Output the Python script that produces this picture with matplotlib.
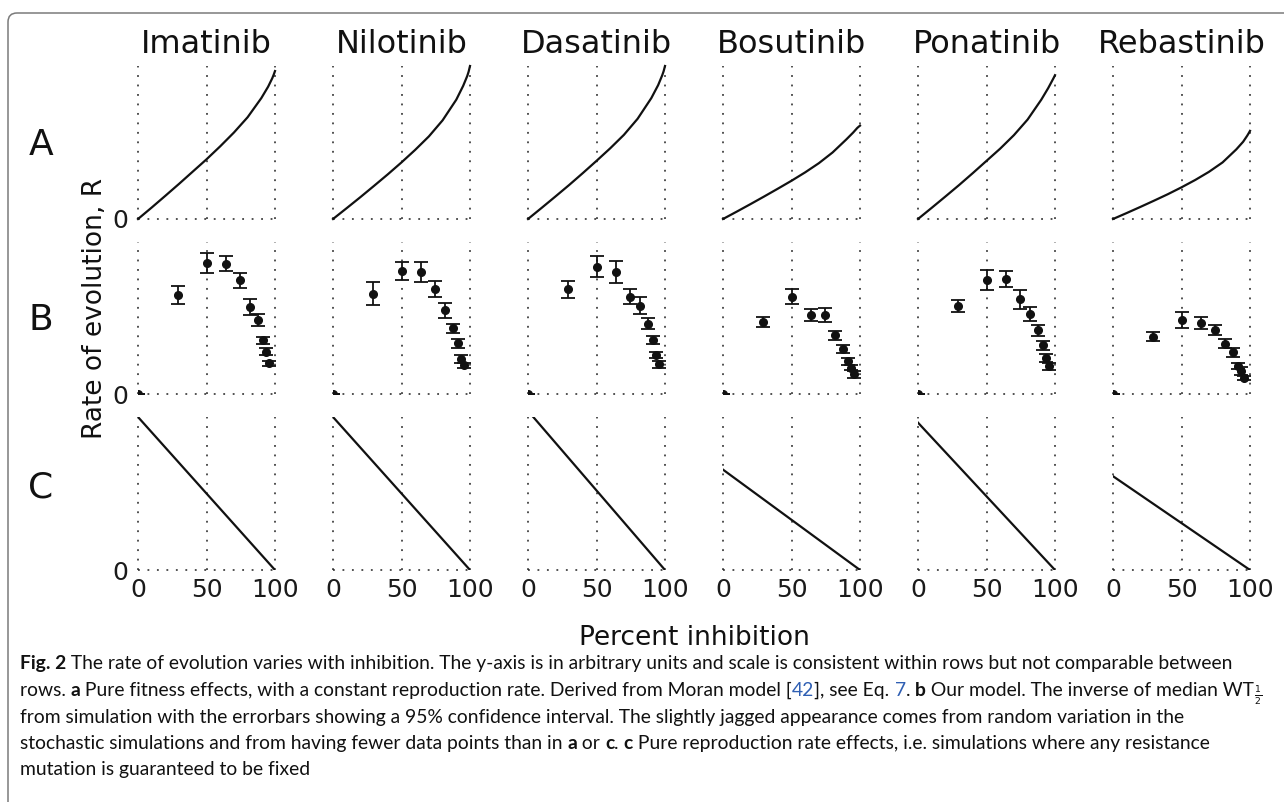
import numpy as np
import matplotlib.pyplot as plt
from matplotlib.patches import FancyBboxPatch
from matplotlib.transforms import IdentityTransform

W, H = 1284, 802

drugs = ['Imatinib', 'Nilotinib', 'Dasatinib', 'Bosutinib', 'Ponatinib', 'Rebastinib']
row_names = ['A', 'B', 'C']
x_ticks = [0, 50, 100]

# row A: pure fitness effects
inhib_a = [0, 10, 20, 30, 40, 50, 60, 70, 80, 90, 95, 98, 99, 100]
rate_a = [
    [0, 0.075, 0.152, 0.230, 0.310, 0.390, 0.475, 0.565, 0.665, 0.790, 0.865, 0.920, 0.942, 0.967],
    [0, 0.071, 0.143, 0.217, 0.292, 0.370, 0.452, 0.540, 0.645, 0.780, 0.870, 0.935, 0.963, 1.000],
    [0, 0.073, 0.147, 0.222, 0.300, 0.380, 0.462, 0.550, 0.655, 0.790, 0.875, 0.940, 0.966, 1.000],
    [0, 0.048, 0.097, 0.147, 0.198, 0.250, 0.305, 0.365, 0.435, 0.520, 0.565, 0.595, 0.603, 0.610],
    [0, 0.073, 0.147, 0.222, 0.300, 0.380, 0.460, 0.548, 0.650, 0.780, 0.855, 0.905, 0.922, 0.940],
    [0, 0.039, 0.079, 0.120, 0.162, 0.207, 0.255, 0.308, 0.370, 0.455, 0.505, 0.545, 0.560, 0.576],
]

# row B: our model, inverse median WT1/2 with 95% CI
inhib_b = [0, 29.5, 50, 64.5, 74.5, 82, 87.5, 91, 93.5, 95.5]
rate_b = [
    [0, 0.651, 0.862, 0.856, 0.747, 0.572, 0.487, 0.354, 0.279, 0.203],
    [0, 0.659, 0.808, 0.801, 0.688, 0.550, 0.432, 0.334, 0.234, 0.192],
    [0, 0.688, 0.834, 0.801, 0.638, 0.579, 0.463, 0.356, 0.258, 0.197],
    [0, 0.474, 0.640, 0.520, 0.520, 0.386, 0.299, 0.218, 0.175, 0.131],
    [0, 0.579, 0.747, 0.753, 0.622, 0.528, 0.419, 0.321, 0.240, 0.186],
    [0, 0.378, 0.485, 0.465, 0.421, 0.332, 0.277, 0.186, 0.153, 0.109],
]
err_b = [
    [0, 0.060, 0.066, 0.051, 0.049, 0.050, 0.038, 0.025, 0.024, 0.016],
    [0, 0.074, 0.057, 0.065, 0.052, 0.047, 0.030, 0.029, 0.027, 0.017],
    [0, 0.057, 0.068, 0.074, 0.049, 0.055, 0.038, 0.028, 0.021, 0.022],
    [0, 0.035, 0.051, 0.039, 0.043, 0.030, 0.027, 0.022, 0.018, 0.020],
    [0, 0.038, 0.066, 0.051, 0.064, 0.046, 0.036, 0.029, 0.026, 0.023],
    [0, 0.031, 0.051, 0.040, 0.034, 0.029, 0.029, 0.022, 0.024, 0.013],
]

# row C: pure reproduction rate effects, straight lines down to 0 at 100 %
inhib_c = [0, 100]
start_c = [1.0, 1.0, 1.04, 0.656, 0.963, 0.613]

fig = plt.figure(figsize=(W / 100, H / 100), dpi=100)

# rounded frame around the figure (only top / left visible)
frame = FancyBboxPatch((8, -60), 1400, H - 13 + 60,
                       boxstyle='round,pad=0,rounding_size=9',
                       transform=IdentityTransform(), fill=False,
                       edgecolor='#7a7a7a', linewidth=1.1)
fig.add_artist(frame)

ink = '#111111'
dot = dict(color='#222222', linewidth=1.1, linestyle=(0, (1.2, 5)), clip_on=False, zorder=1)
col_x0, col_step, ax_w, ax_h = 138, 195, 137, 153
row_bottom = [219, 394.5, 570]

for r in range(3):
    for c in range(6):
        left = (col_x0 + c * col_step) / W
        bottom = 1 - row_bottom[r] / H
        ax = fig.add_axes([left, bottom, ax_w / W, ax_h / H])
        ax.set_xlim(0, 100)
        ax.set_ylim(0, 1)
        for s in ax.spines.values():
            s.set_visible(False)
        ax.set_xticks(x_ticks)
        ax.set_yticks([0])
        ax.tick_params(length=0, labelsize=18, labelcolor='#1a1a1a')
        ax.tick_params(axis='y', pad=7)
        ax.tick_params(axis='x', pad=6)
        if r < 2:
            ax.set_xticklabels([])
        if c > 0:
            ax.set_yticklabels([])
        for xv in x_ticks:
            ax.axvline(xv, **dot)
        ax.axhline(0, **dot)

        if r == 0:
            ax.plot(inhib_a, rate_a[c], color=ink, lw=1.6, clip_on=False, zorder=3)
        elif r == 1:
            ax.errorbar(inhib_b, rate_b[c], yerr=err_b[c], fmt='o', color=ink,
                        ms=5.5, capsize=5, elinewidth=1.3, capthick=1.3, zorder=3)
        else:
            ax.plot(inhib_c, [start_c[c], 0], color=ink, lw=1.6, zorder=3)

        if r == 0:
            fig.text(left + ax_w / W / 2, 1 - 53 / H, drugs[c], fontsize=23,
                     ha='center', va='baseline', color='#111111')

for name, yb in zip(row_names, [155, 330, 497]):
    fig.text(41 / W, 1 - yb / H, name, fontsize=26, ha='center', va='baseline', color='#111111')

fig.text(95 / W, 1 - 308 / H, 'Rate of evolution, R', fontsize=19, rotation=90,
         ha='center', va='center', color='#111111')
fig.text(694 / W, 1 - 645 / H, 'Percent inhibition', fontsize=19,
         ha='center', va='baseline', color='#111111')

# caption, drawn as runs of normal / bold / linked text
cap_font = ['Lato', 'DejaVu Sans']
blue = '#2f5fb3'
caption = [
    [('Fig. 2', 'bold', ink),
     (' The rate of evolution varies with inhibition. The y-axis is in arbitrary units and scale is consistent within rows but not comparable between', 'normal', ink)],
    [('rows. ', 'normal', ink), ('a', 'bold', ink),
     (' Pure fitness effects, with a constant reproduction rate. Derived from Moran model [', 'normal', ink),
     ('42', 'normal', blue), ('], see Eq. ', 'normal', ink), ('7', 'normal', blue), ('. ', 'normal', ink),
     ('b', 'bold', ink), (' Our model. The inverse of median WT', 'normal', ink),
     (r'$_{\frac{1}{2}}$', 'normal', ink)],
    [('from simulation with the errorbars showing a 95% confidence interval. The slightly jagged appearance comes from random variation in the', 'normal', ink)],
    [('stochastic simulations and from having fewer data points than in ', 'normal', ink), ('a', 'bold', ink),
     (' or ', 'normal', ink), ('c', 'bold', ink), ('. ', 'normal', ink), ('c', 'bold', ink),
     (' Pure reproduction rate effects, i.e. simulations where any resistance', 'normal', ink)],
    [('mutation is guaranteed to be fixed', 'normal', ink)],
]
cap_baseline = [669, 696, 723, 749, 775]

renderer = fig.canvas.get_renderer()


def run_width(s, weight, size):
    t1 = fig.text(0, 0, '|' + s + '|', fontsize=size, fontweight=weight, family=cap_font)
    t2 = fig.text(0, 0, '||', fontsize=size, fontweight=weight, family=cap_font)
    w = t1.get_window_extent(renderer).width - t2.get_window_extent(renderer).width
    t1.remove()
    t2.remove()
    return w


# pick the font size so the first line spans about the same width as in the figure
w10 = sum(run_width(s, wt, 10) for s, wt, _ in caption[0])
cap_size = 10 * (1236 - 20) / w10

for runs, yb in zip(caption, cap_baseline):
    x = 20
    for s, wt, col in runs:
        fig.text(x / W, 1 - yb / H, s, fontsize=cap_size, fontweight=wt, color=col,
                 family=cap_font, ha='left', va='baseline')
        x += run_width(s, wt, cap_size)

fig.savefig('out.png', dpi=100)
